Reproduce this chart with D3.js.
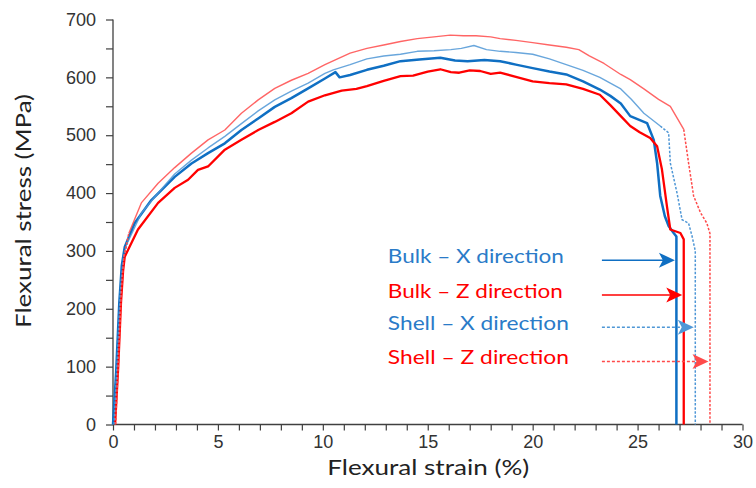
<!DOCTYPE html>
<html><head><meta charset="utf-8">
<script src="https://cdn.jsdelivr.net/npm/d3@7"></script>
<style>body{margin:0;background:#fff}svg{display:block}</style>
</head><body>
<svg id="c" width="756" height="488"></svg>
<script>
// ---- data (strain %, stress MPa) ----
const bulkX = [[0,0],[0.15,90],[0.3,210],[0.42,275],[0.56,307],[1.03,348],[1.83,388],[2.94,428],[3.74,451],[4.53,469],[5.33,486],[6.12,509],[6.92,529],[7.71,549],[8.5,564],[9.3,581],[10.1,598],[10.6,609],[10.8,600],[11.3,604],[12.1,613],[12.9,620],[13.7,628],[14.6,631],[15.6,634],[16.3,629],[16.9,628],[17.7,630],[18.45,628],[19.2,622],[20.0,616],[20.8,610],[21.6,605],[22.4,593],[23.2,579],[23.7,568],[24.2,555],[24.65,533],[25.45,521],[25.77,492],[25.93,452],[26.08,395],[26.3,360],[26.48,343],[26.72,331],[26.85,325],[26.85,0]];
const bulkZ = [[0.1,0],[0.25,100],[0.38,210],[0.48,265],[0.56,290],[1.19,337],[2.15,383],[2.94,409],[3.58,423],[4.05,440],[4.53,446],[5.33,475],[6.12,492],[6.92,509],[7.71,523],[8.5,538],[9.3,558],[10.1,569],[10.9,577],[11.6,580],[12.1,585],[12.9,594],[13.7,602],[14.3,603],[15.0,610],[15.6,614],[16.1,609],[16.5,608],[17.0,612],[17.5,611],[18.0,606],[18.45,608],[19.2,601],[20.0,593],[20.8,590],[21.6,588],[22.4,580],[23.2,570],[23.7,552],[24.2,533],[24.65,516],[25.1,505],[25.6,495],[25.93,481],[26.16,441],[26.4,377],[26.56,337],[26.8,334],[27.04,331],[27.2,320],[27.2,0]];
const shellX = [[0.05,0],[0.2,110],[0.35,230],[0.5,290],[0.7,315],[1.35,365],[2.15,400],[2.94,433],[3.74,457],[4.53,478],[5.33,498],[6.12,520],[6.92,542],[7.71,561],[8.5,576],[9.3,590],[10.1,607],[10.5,613],[11.3,622],[12.1,632],[12.9,637],[13.7,640],[14.5,645],[15.3,646],[16.1,648],[16.6,650],[17.2,655],[17.8,648],[18.45,645],[19.2,643],[20.0,640],[20.8,632],[21.6,622],[22.4,612],[23.2,600],[23.7,590],[24.2,580],[24.7,562],[25.3,538],[26.08,516],[26.48,504],[26.56,452],[26.88,400],[27.12,354],[27.43,348],[27.6,325],[27.75,300],[27.75,0]];
const shellZ = [[0.12,0],[0.25,100],[0.4,230],[0.52,290],[0.75,330],[1.35,383],[2.15,417],[2.94,444],[3.74,469],[4.53,492],[5.33,509],[6.12,538],[6.92,561],[7.71,581],[8.5,595],[9.3,607],[10.1,622],[10.7,632],[11.3,642],[12.1,650],[12.9,656],[13.7,662],[14.5,667],[15.3,670],[16.07,673],[16.7,672],[17.3,672],[18.0,670],[18.45,667],[19.2,664],[20.0,660],[20.8,656],[21.6,652],[22.2,648],[22.7,637],[23.4,624],[24.2,605],[24.65,596],[25.3,580],[26.0,562],[26.56,550],[27.2,510],[27.43,452],[27.67,395],[28.0,366],[28.3,348],[28.45,330],[28.45,0]];

const seriesNames = ["Bulk – X direction","Bulk – Z direction","Shell – X direction","Shell – Z direction"];
const arrowStress = [284, 224, 168, 109];
const arrowStartStrain = 23.3;
const labelStrain = 13.1;
const xTicks = d3.range(0, 31, 1);
const yTicks = d3.range(0, 701, 50);

// ---- drawing ----
const svg = d3.select("#c");
const x = d3.scaleLinear([0,30],[113,742.5]);
const y = d3.scaleLinear([0,700],[424.5,19.5]);

const series = [
  {d: bulkX, color:"#0f6fc3", text:"#2a7bc8", w:2.5, shell:false},
  {d: bulkZ, color:"#ff0000", text:"#ff0000", w:2.3, shell:false},
  {d: shellX, color:"#4f97d6", text:"#2a7bc8", w:1.4, shell:true},
  {d: shellZ, color:"#ff4a4a", text:"#ff0000", w:1.4, shell:true}
];

// axes
const axisColor = "#404040";
const gx = svg.append("g").attr("transform",`translate(0,${y(0)})`)
  .call(d3.axisBottom(x).tickValues(xTicks).tickSize(6).tickPadding(5)
        .tickFormat(d => d % 5 === 0 ? d : ""));
const gy = svg.append("g").attr("transform",`translate(${x(0)},0)`)
  .call(d3.axisLeft(y).tickValues(yTicks).tickSize(7).tickPadding(10)
        .tickFormat(d => d % 100 === 0 ? d : ""));
[gx,gy].forEach(g => {
  g.select(".domain").attr("stroke",axisColor).attr("stroke-width",1.3);
  g.selectAll(".tick line").attr("stroke",axisColor).attr("stroke-width",1.2);
  g.selectAll(".tick text").attr("fill","#333")
    .style("font-family","'Liberation Sans', Arial, sans-serif").style("font-size","18px");
});
gy.select(".domain").attr("d", `M0,${y(700)}V${y(0)}`);
gx.select(".domain").attr("d", `M${x(0)},0H${x(30)}`);

const line = d3.line().x(d => x(d[0])).y(d => y(d[1]));

// curves
series.forEach(s => {
  if (!s.shell) {
    svg.append("path").attr("d", line(s.d)).attr("fill","none")
      .attr("stroke", s.color).attr("stroke-width", s.w).attr("stroke-linejoin","round");
  } else {
    const peak = d3.maxIndex(s.d, p => p[1]);
    const riseEnd = s.d.findIndex(p => p[1] >= 300);
    let tailStart = peak;
    while (tailStart < s.d.length-1 && s.d[tailStart][1] >= 520) tailStart++;
    const rise = s.d.slice(0, riseEnd+1);
    const body = s.d.slice(riseEnd, tailStart+1);
    const tail = s.d.slice(tailStart);
    [rise, tail].forEach(part => svg.append("path").attr("d", line(part)).attr("fill","none")
      .attr("stroke", s.color).attr("stroke-width", 1.5).attr("stroke-dasharray","2.5,1.6"));
    svg.append("path").attr("d", line(body)).attr("fill","none")
      .attr("stroke", s.color).attr("stroke-width", s.w).attr("stroke-opacity",0.85)
      .attr("stroke-linejoin","round");
  }
});

// labels and arrows
const textLens = [176, 175, 181, 181];
series.forEach((s, i) => {
  const ay = y(arrowStress[i]);
  const tip = x(s.d[s.d.length-1][0]) - 1.5;
  svg.append("text").attr("x", x(labelStrain)).attr("y", ay + 3)
    .attr("fill", s.text).style("font-family","Lato, 'Open Sans', sans-serif")
    .style("font-size","20px")
    .attr("textLength", textLens[i]).attr("lengthAdjust","spacingAndGlyphs")
    .text(seriesNames[i]);
  svg.append("line").attr("x1", x(arrowStartStrain)).attr("x2", tip - 10).attr("y1", ay).attr("y2", ay)
    .attr("stroke", s.color).attr("stroke-width", 1.5)
    .attr("stroke-dasharray", s.shell ? "3,2" : null);
  svg.append("path")
    .attr("d", `M${tip},${ay} L${tip-16},${ay-7.5} L${tip-12},${ay} L${tip-16},${ay+7.5} Z`)
    .attr("fill", s.color);
});

// axis titles
svg.append("text").attr("x", (x(0)+x(30))/2 + 0.5).attr("y", 475).attr("text-anchor","middle")
  .attr("fill","#222").style("font-family","Lato, 'Open Sans', sans-serif").style("font-size","22px")
  .attr("textLength", 202).attr("lengthAdjust","spacingAndGlyphs")
  .text("Flexural strain (%)");
svg.append("text").attr("transform", `translate(31,${211}) rotate(-90)`).attr("text-anchor","middle")
  .attr("fill","#222").style("font-family","Lato, 'Open Sans', sans-serif").style("font-size","22px")
  .attr("textLength", 234).attr("lengthAdjust","spacingAndGlyphs")
  .text("Flexural stress (MPa)");
</script>
</body></html>
